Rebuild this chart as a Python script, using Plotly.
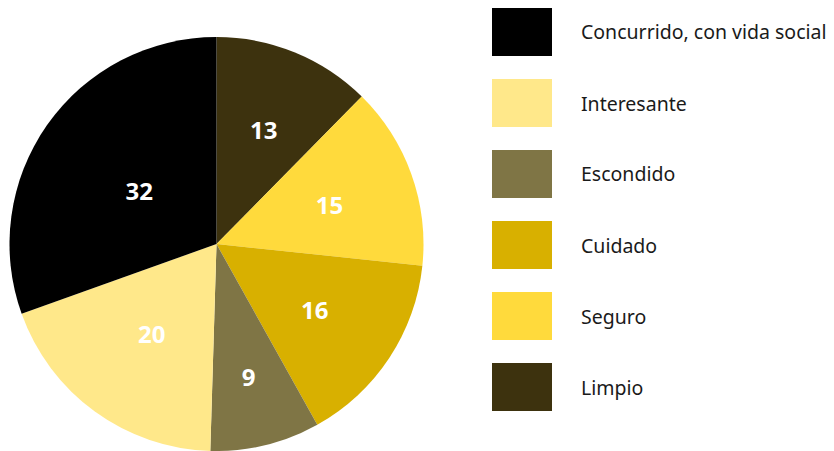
import plotly.graph_objects as go

# Legend order (top to bottom)
categories = ["Concurrido, con vida social", "Interesante", "Escondido", "Cuidado", "Seguro", "Limpio"]
values = [32, 20, 9, 16, 15, 13]
colors = ["#000000", "#ffe88a", "#7f7545", "#d8b000", "#ffda3c", "#3d320e"]

W, H = 834, 451

# pie drawn clockwise from 12 o'clock starting with the last legend item
pie_labels = categories[::-1]
pie_values = values[::-1]
pie_colors = colors[::-1]

cx, cy, R = 216.5, 244.5, 207.5   # pixel geometry of the pie
r_in = 172                          # radius of the transparent label ring

fig = go.Figure()
fig.add_trace(go.Pie(
    labels=pie_labels,
    values=pie_values,
    marker=dict(colors=pie_colors, line=dict(width=0)),
    sort=False,
    direction="clockwise",
    rotation=0,
    textinfo="none",
    domain=dict(x=[(cx - R) / W, (cx + R) / W], y=[max(0, (H - cy - R) / H), (H - cy + R) / H]),
    showlegend=False,
    hoverinfo="label+value",
))
# transparent copy only used to place the value labels nearer the centre
fig.add_trace(go.Pie(
    labels=pie_labels,
    values=pie_values,
    marker=dict(colors=["rgba(0,0,0,0)"] * len(pie_values), line=dict(width=0)),
    sort=False,
    direction="clockwise",
    rotation=0,
    textinfo="value",
    textposition="inside",
    insidetextorientation="horizontal",
    textfont=dict(family="Open Sans", size=24, color="white", weight="bold"),
    domain=dict(x=[(cx - r_in) / W, (cx + r_in) / W], y=[(H - cy - r_in) / H, (H - cy + r_in) / H]),
    showlegend=False,
    hoverinfo="skip",
))

shapes = []
annotations = []
top0, step, bh = 8, 71, 48
for i, (cat, col) in enumerate(zip(categories, colors)):
    y0 = top0 + i * step
    shapes.append(dict(type="rect", xref="paper", yref="paper",
                       x0=492 / W, x1=552 / W, y0=1 - (y0 + bh) / H, y1=1 - y0 / H,
                       fillcolor=col, line=dict(width=0)))
    annotations.append(dict(xref="paper", yref="paper", x=579 / W, y=1 - (y0 + bh / 2) / H,
                            text=cat, showarrow=False, xanchor="left", yanchor="middle",
                            font=dict(family="Noto Sans", size=19.5, color="#1a1a1a")))

fig.update_layout(
    width=W, height=H,
    margin=dict(l=0, r=0, t=0, b=0),
    paper_bgcolor="white",
    plot_bgcolor="white",
    shapes=shapes,
    annotations=annotations,
)

fig.write_html("out.html", config={"displayModeBar": False},
               post_script="document.body.style.margin='0';")
